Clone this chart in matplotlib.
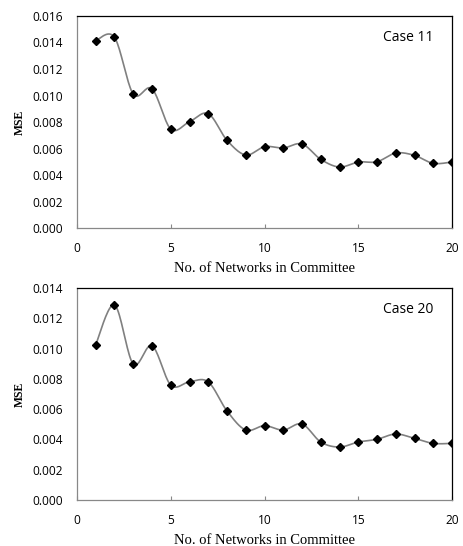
import numpy as np
import matplotlib.pyplot as plt

# networks in committee
n_networks = list(range(1, 21))

# MSE
mse_case11 = [0.01414, 0.01439, 0.01011, 0.01051, 0.00747, 0.00802, 0.00863, 0.00662, 0.00551, 0.00614,
              0.00604, 0.00634, 0.00518, 0.00460, 0.00498, 0.00500, 0.00566, 0.00548, 0.00488, 0.00498]
mse_case20 = [0.01026, 0.01288, 0.00898, 0.01019, 0.00759, 0.00781, 0.00780, 0.00588, 0.00462, 0.00491,
              0.00462, 0.00502, 0.00383, 0.00350, 0.00383, 0.00401, 0.00436, 0.00407, 0.00374, 0.00374]

panels = [("Case 11", mse_case11, 0.016), ("Case 20", mse_case20, 0.014)]


# smoothed line like a spreadsheet chart (bezier through the points)
def smooth(x, y, steps=20):
	x = np.asarray(x, float)
	y = np.asarray(y, float)
	n = len(x)
	xs, ys = [], []
	t = np.linspace(0, 1, steps)
	for i in range(n - 1):
		p0 = np.array([x[max(i - 1, 0)], y[max(i - 1, 0)]])
		p1 = np.array([x[i], y[i]])
		p2 = np.array([x[i + 1], y[i + 1]])
		p3 = np.array([x[min(i + 2, n - 1)], y[min(i + 2, n - 1)]])
		c1 = p1 + (p2 - p0) / 6
		c2 = p2 - (p3 - p1) / 6
		for tt in t:
			pt = ((1 - tt) ** 3) * p1 + 3 * ((1 - tt) ** 2) * tt * c1 + 3 * (1 - tt) * tt ** 2 * c2 + tt ** 3 * p2
			xs.append(pt[0])
			ys.append(pt[1])
	return xs, ys


fig = plt.figure(figsize=(4.63, 5.46), dpi=100)
tick_font = "Open Sans"
serif = "Liberation Serif"

bottoms = [0.5824, 0.0842]
for (label, mse, ymax), bottom in zip(panels, bottoms):
	ax = fig.add_axes([0.1663, bottom, 0.81, 0.3883])
	sx, sy = smooth(n_networks, mse)
	ax.plot(sx, sy, color="#808080", lw=1.2, zorder=2)
	ax.plot(n_networks, mse, linestyle="none", marker="D", ms=4.3, color="black", zorder=3)
	ax.set_xlim(0, 20)
	ax.set_ylim(0, ymax)
	ax.set_xticks([0, 5, 10, 15, 20])
	ax.set_yticks(np.arange(0, ymax + 1e-9, 0.002))
	ax.set_yticklabels(["%.3f" % v for v in np.arange(0, ymax + 1e-9, 0.002)])
	ax.tick_params(axis="x", direction="in", length=3, color="#888888", pad=10)
	ax.tick_params(axis="y", length=0, pad=10)
	for t in ax.get_xticklabels() + ax.get_yticklabels():
		t.set_fontfamily(tick_font)
		t.set_fontsize(8.6)
	ax.spines["left"].set_color("#888888")
	ax.spines["bottom"].set_color("#888888")
	ax.spines["top"].set_color("black")
	ax.spines["right"].set_color("black")
	for s in ax.spines.values():
		s.set_linewidth(0.9)
	ax.set_xlabel("No. of Networks in Committee", fontfamily=serif, fontsize=10.5, labelpad=5)
	ax.set_ylabel("MSE", fontfamily=serif, fontsize=8.5, fontweight="bold", labelpad=5)
	ax.text(0.95, 0.9, label, transform=ax.transAxes, ha="right", va="center",
			fontfamily=tick_font, fontsize=10)

fig.savefig("out.png", dpi=100)
